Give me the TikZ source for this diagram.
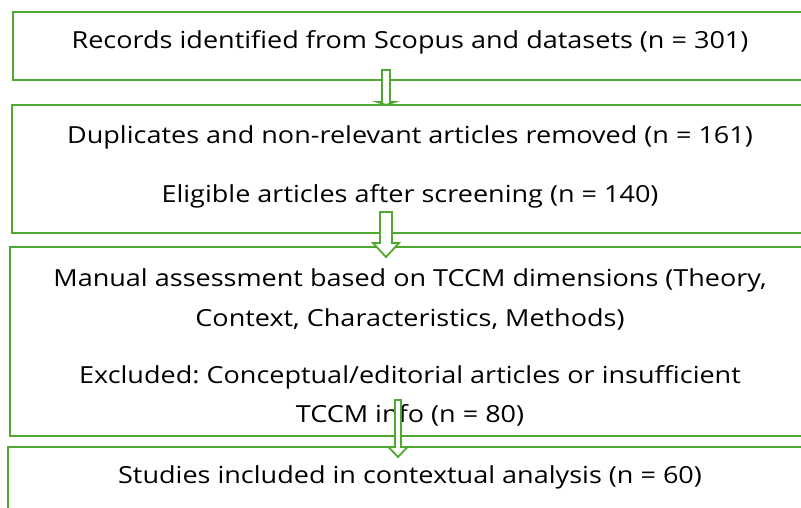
\documentclass[tikz,border=0pt]{standalone}
\usepackage{fontspec}
\setmainfont{Open Sans}[FakeStretch=1.15]
\usetikzlibrary{calc}
\frenchspacing

\definecolor{boxgreen}{RGB}{78,167,46}

\tikzset{
  stepbox/.style={draw=boxgreen, line width=2.6pt, inner sep=0pt},
  flowtext/.style={anchor=base, inner sep=0pt, align=center,
    font=\fontsize{23.5}{40}\selectfont},
  blockarrow/.style={draw=boxgreen, line width=1.8pt, fill=white, line join=miter}
}

% hollow block arrow: tail, tip, shaft half width, head half width, head length
\newcommand{\downarrowblock}[5]{%
  \draw[blockarrow] let \p1=(#1), \p2=(#2) in
    (\x1-#3,\y1) -- (\x1+#3,\y1) -- (\x1+#3,\y2+#5) -- (\x1+#4,\y2+#5)
    -- (\x2,\y2) -- (\x1-#4,\y2+#5) -- (\x1-#3,\y2+#5) -- cycle;}

\begin{document}
\begin{tikzpicture}[x=1pt,y=-1pt]

\useasboundingbox (0,0) rectangle (801,508);
\clip (0,0) rectangle (801,508);

% boxes
\node[stepbox, minimum width=794pt, minimum height=68pt]  (records)  at (410,46)  {};
\node[stepbox, minimum width=796pt, minimum height=128pt] (screened) at (410,169) {};
\node[stepbox, minimum width=800pt, minimum height=189pt] (assessed) at (410,341.5) {};
\node[stepbox, minimum width=804pt, minimum height=90pt]  (included) at (410,492) {};

% texts
\node[flowtext] (t1) at (410,49)  {Records identified from Scopus and datasets (n = 301)};
\node[flowtext] (t2) at (410,144) {Duplicates and non-relevant articles removed (n = 161)};
\node[flowtext] (t3) at (410,203) {Eligible articles after screening (n = 140)};
\node[flowtext] (t4) at (410,286) {Manual assessment based on TCCM dimensions (Theory,};
\node[flowtext] (t5) at (410,326) {Context, Characteristics, Methods)};
\node[flowtext] (t6) at (410,383) {Excluded: Conceptual/editorial articles or insufficient};
\node[flowtext] (t7) at (410,422) {TCCM info (n = 80)};
\node[flowtext] (t8) at (410,483) {Studies included in contextual analysis (n = 60)};

% arrows
\coordinate (a1s) at (386,70);  \coordinate (a1e) at (386,105);
\coordinate (a2s) at (386,212); \coordinate (a2e) at (386,257);
\coordinate (a3s) at (398,400); \coordinate (a3e) at (398,457);

\downarrowblock{a1s}{a1e}{4pt}{8.5pt}{3pt}
\downarrowblock{a2s}{a2e}{6pt}{13pt}{14pt}
\downarrowblock{a3s}{a3e}{3pt}{9.5pt}{10pt}

\end{tikzpicture}
\end{document}
